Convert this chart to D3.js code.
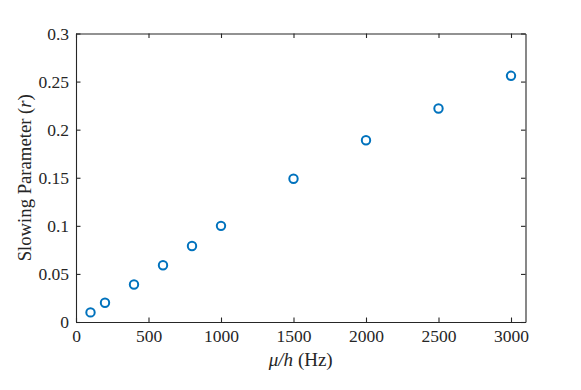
<!DOCTYPE html>
<html><head><meta charset="utf-8">
<script src="https://cdn.jsdelivr.net/npm/d3@7"></script>
<style>body{margin:0;background:#fff}svg{display:block}text{font-family:"Liberation Serif","Times New Roman",serif;fill:#262626}</style>
</head><body><svg id="c" width="581" height="390"></svg>
<script>
const freqs = [100, 200, 400, 600, 800, 1000, 1500, 2000, 2500, 3000];
const slowing = [0.010, 0.020, 0.039, 0.059, 0.079, 0.100, 0.149, 0.189, 0.222, 0.256];
const xTicks = [0, 500, 1000, 1500, 2000, 2500, 3000];
const yTicks = [0, 0.05, 0.1, 0.15, 0.2, 0.25, 0.3];
const yTickLabels = ["0", "0.05", "0.1", "0.15", "0.2", "0.25", "0.3"];

const svg = d3.select("#c");
const L = 76, R = 525.5, T = 33.5, B = 322;
const x = d3.scaleLinear().domain([0, 3100]).range([L, R]);
const y = d3.scaleLinear().domain([0, 0.3]).range([B, T]);
const col = "#262626", fs = 17.5;

const gx = svg.append("g").attr("transform", `translate(0,${B})`)
  .call(d3.axisBottom(x).tickValues(xTicks).tickSizeInner(-4.5).tickSizeOuter(0).tickPadding(8).tickFormat(d3.format("d")));
const gxt = svg.append("g").attr("transform", `translate(0,${T})`)
  .call(d3.axisTop(x).tickValues(xTicks).tickSizeInner(-4.5).tickSizeOuter(0).tickFormat(""));
const gy = svg.append("g").attr("transform", `translate(${L},0)`)
  .call(d3.axisLeft(y).tickValues(yTicks).tickSizeInner(-4.5).tickSizeOuter(0).tickPadding(7).tickFormat((d,i)=>yTickLabels[i]));
const gyr = svg.append("g").attr("transform", `translate(${R},0)`)
  .call(d3.axisRight(y).tickValues(yTicks).tickSizeInner(-4.5).tickSizeOuter(0).tickFormat(""));
[gx, gxt, gy, gyr].forEach(g => {
  g.attr("font-size", fs).attr("font-family", '"Liberation Serif",serif');
  g.selectAll("path,line").attr("stroke", col).attr("stroke-width", 1.1);
  g.selectAll("text").attr("fill", col);
});
gy.selectAll("text").attr("dy", "0.33em");

svg.append("g").selectAll("circle").data(freqs).join("circle")
  .attr("cx", d => x(d)).attr("cy", (d,i) => y(slowing[i]))
  .attr("r", 4.2).attr("fill", "none").attr("stroke", "#0072BD").attr("stroke-width", 2);

const xl = svg.append("text").attr("x", (L+R)/2).attr("y", 366).attr("text-anchor", "middle").attr("font-size", 19);
xl.append("tspan").attr("font-style", "italic").text("μ/h");
xl.append("tspan").text(" (Hz)");

const yl = svg.append("text").attr("transform", `translate(31,${(T+B)/2}) rotate(-90)`).attr("text-anchor", "middle").attr("font-size", 18.7);
yl.append("tspan").text("Slowing Parameter (");
yl.append("tspan").attr("font-style", "italic").text("r");
yl.append("tspan").text(")");
</script></body></html>
